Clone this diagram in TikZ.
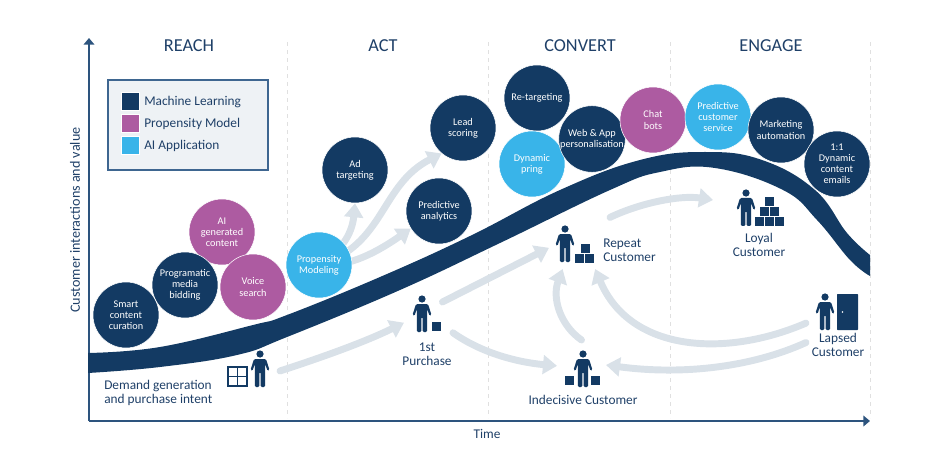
\documentclass[tikz,border=0pt]{standalone}
\usepackage{fontspec}
\setmainfont{Carlito}
\usetikzlibrary{arrows.meta,fit}
\definecolor{navy}{HTML}{133A63}
\definecolor{inknavy}{HTML}{1F4068}
\definecolor{plum}{HTML}{AD5BA1}
\definecolor{sky}{HTML}{39B4E9}
\definecolor{flow}{HTML}{D9E1E8}
\definecolor{panel}{HTML}{EEF2F5}
\definecolor{panelline}{HTML}{3E6690}
\tikzset{
  bubble/.style={circle,draw=white,line width=0.4pt,minimum size=49.5pt,inner sep=0pt,text=white,align=center,font=\fontsize{7.7}{8.3}\selectfont},
  mlbubble/.style={bubble,fill=navy},
  pmbubble/.style={bubble,fill=plum},
  aibubble/.style={bubble,fill=sky},
  stagetitle/.style={text=inknavy,font=\fontsize{13.7}{14}\selectfont},
  tag/.style={text=inknavy,align=center,font=\fontsize{10}{10.5}\selectfont},
  legendtext/.style={text=inknavy,anchor=west,inner sep=0pt,font=\fontsize{10}{10.5}\selectfont},
  swatch/.style={draw=white,line width=0.3pt,minimum size=13.5pt,inner sep=0pt},
  iconzone/.style={inner sep=0pt,outer sep=0pt},
  flowarrow/.style={draw=flow,line width=5.2pt,line cap=round,-{Triangle[length=10.5pt,width=14pt]}},
  axisline/.style={draw=panelline!60!navy,line width=1.5pt,-{Triangle[length=5pt,width=8pt]}},
  stagedash/.style={draw=black!12,line width=0.4pt,dashed},
  person/.pic={
    \fill[navy] (0,0) circle (3.6);
    \fill[navy,rounded corners=1pt] (-6,5) -- (6,5) -- (9.5,16) -- (7.5,17) -- (5.2,10) -- (5.2,33) -- (0.6,33) -- (0.6,18) -- (-0.6,18) -- (-0.6,33) -- (-5.2,33) -- (-5.2,10) -- (-7.5,17) -- (-9.5,16) -- cycle;
  },
  crate/.pic={\fill[navy] (0,0) rectangle (9.4,9.4);},
}
\begin{document}
\begin{tikzpicture}[x=0.75pt,y=-0.75pt]
\useasboundingbox (0,0) rectangle (941,470);
%draw the dashed stage lines
\foreach \xpos in {287,488,670,870}
  \draw[stagedash] (\xpos,42) -- (\xpos,418);
%define the axes
\coordinate (origin) at (89,421);
\coordinate (topend) at (89,38);
\coordinate (rightend) at (870,421);
\draw[axisline] (origin) -- (topend);
\draw[axisline] (origin) -- (rightend);
\node[tag] (timelabel) at (487,434) {Time};
\node[tag,rotate=90,font=\fontsize{10.6}{11}\selectfont] (valuelabel) at (75,220) {Customer interactions and value};
%stage titles
\node[stagetitle] (reach) at (189,46) {REACH};
\node[stagetitle] (act) at (383,46) {ACT};
\node[stagetitle] (convert) at (580,46) {CONVERT};
\node[stagetitle] (engage) at (771,46) {ENGAGE};
%draw the legend
\node[draw=panelline,fill=panel,line width=0.9pt,fit={(108,80) (268,170)},inner sep=0pt] (legend) {};
\node[swatch,fill=navy] (mlswatch) at (130,101) {};
\node[swatch,fill=plum] (pmswatch) at (130,123) {};
\node[swatch,fill=sky] (aiswatch) at (130,145) {};
\node[legendtext] (mltext) at (144,102) {Machine Learning};
\node[legendtext] (pmtext) at (144,124) {Propensity Model};
\node[legendtext] (aitext) at (144,146) {AI Application};
%draw the big curve
\fill[navy] plot[smooth,tension=0.7] coordinates {(88,353) (160,347) (253,325) (287,315) (380,277) (470,236) (560,190) (640,160) (705,152) (762,160) (815,190) (847,233) (870,255)}
  -- plot[smooth,tension=0.7] coordinates {(870,276) (850,260) (817,220) (783,190) (715,168) (660,172) (610,190) (500,243) (400,290) (287,337) (237,355) (160,367) (88,373)} -- cycle;
%icon zones the arrows start from
\node[iconzone,fit={(225,350) (280,390)}] (intent) {};
\node[iconzone,fit={(404,302) (453,333)}] (purchase) {};
\node[iconzone,fit={(549,217) (610,269)}] (repeat) {};
\node[iconzone,fit={(557,340) (606,390)}] (indecisive) {};
\node[iconzone,fit={(713,190) (790,232)}] (loyal) {};
\node[iconzone,fit={(806,290) (860,360)}] (lapsed) {};
%draw the bubbles
\node[mlbubble] (adtargeting) at (355,170) {Ad\\targeting};
\node[mlbubble] (analytics) at (439,211) {Predictive\\analytics};
\node[mlbubble] (leadscoring) at (463,128) {Lead\\scoring};
%draw the flow arrows
\draw[flowarrow] (319,265) .. controls (340,252) and (352,235) .. (adtargeting.south);
\draw[flowarrow] (319,265) .. controls (385,245) and (380,185) .. (leadscoring.230);
\draw[flowarrow] (319,265) .. controls (350,268) and (380,250) .. (analytics.212);
\draw[flowarrow] (intent.-2) .. controls (320,358) and (365,342) .. (purchase.192.7);
\draw[flowarrow] (purchase.48.9) -- (repeat.189.3);
\draw[flowarrow] (purchase.-32.3) .. controls (480,352) and (515,362) .. (indecisive.182);
\draw[flowarrow] (indecisive.north) .. controls (560,325) and (552,298) .. (repeat.237.6);
\draw[flowarrow] (lapsed.176) .. controls (725,358) and (630,352) .. (repeat.-59.2);
\draw[flowarrow] (lapsed.213.7) .. controls (750,368) and (680,375) .. (indecisive.east);
\draw[flowarrow] (repeat.40.4) .. controls (640,203) and (680,195) .. (loyal.164);
%the remaining bubbles
\node[mlbubble] (curation) at (126,315) {Smart\\content\\curation};
\node[pmbubble] (generated) at (222,232) {AI\\generated\\content};
\node[mlbubble] (bidding) at (185,285) {Programatic\\media\\bidding};
\node[pmbubble] (voice) at (253,287) {Voice\\search};
\node[aibubble] (propensity) at (319,265) {Propensity\\Modeling};
\node[mlbubble] (retargeting) at (537,98) {Re-targeting};
\node[aibubble] (pring) at (532,164) {Dynamic\\pring};
\node[mlbubble] (personal) at (592,139) {Web \& App\\personalisation};
\node[pmbubble] (chatbots) at (653,120) {Chat\\bots};
\node[aibubble] (service) at (718,117) {Predictive\\customer\\service};
\node[mlbubble] (automation) at (781,130) {Marketing\\automation};
\node[mlbubble] (emails) at (837,164) {1:1\\Dynamic\\content\\emails};
%first purchase and demand icons
\pic at (260,354) {person};
\draw[navy,line width=1.2pt] (228,367) rectangle (247,386);
\draw[navy,line width=1.2pt] (237.5,367) -- (237.5,386);
\draw[navy,line width=1.2pt] (228,376.5) -- (247,376.5);
\pic at (422,299) {person};
\pic at (432,322) {crate};
%customer icons
\pic at (565,229) {person};
\pic at (581,244) {crate};
\foreach \xpos in {575,585} \pic at (\xpos,254) {crate};
\pic at (583,354) {person};
\foreach \xpos in {565,591} \pic at (\xpos,376) {crate};
\pic at (746,193) {person};
\pic at (765,197) {crate};
\foreach \xpos in {760,770} \pic at (\xpos,207) {crate};
\foreach \xpos in {755,765,775} \pic at (\xpos,217) {crate};
\pic at (825,297) {person};
\fill[navy,rounded corners=0.5pt] (837,294) rectangle (858,330);
\fill[white] (842.5,312) circle (0.8);
%icon labels
\node[tag,align=left,anchor=west,inner sep=0pt] (intenttext) at (104,393) {Demand generation\\and purchase intent};
\node[tag] (purchasetext) at (427,354) {1st\\Purchase};
\node[tag,align=left,anchor=west,inner sep=0pt] (repeattext) at (603,250) {Repeat\\Customer};
\node[tag] (loyaltext) at (759,245) {Loyal\\Customer};
\node[tag] (lapsedtext) at (838,345) {Lapsed\\Customer};
\node[tag] (indecisivetext) at (583,400) {Indecisive Customer};
\end{tikzpicture}
\end{document}
